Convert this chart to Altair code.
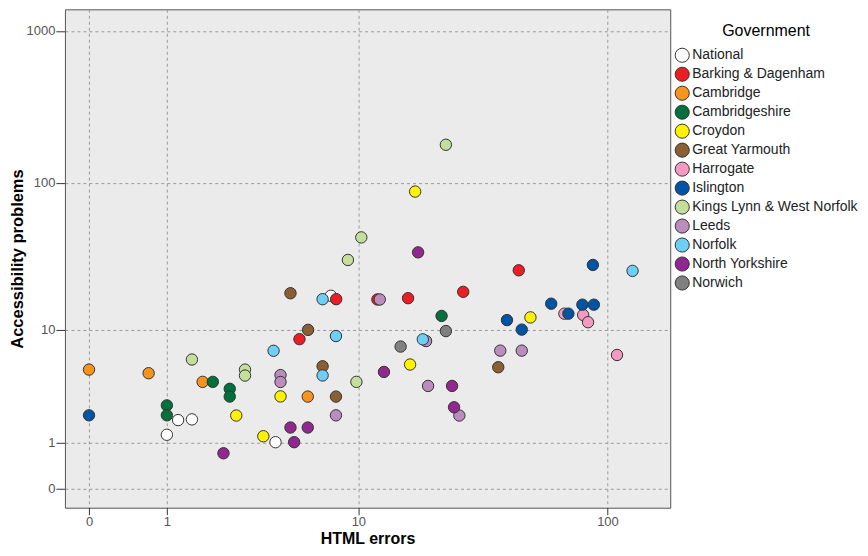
import altair as alt
import pandas as pd

groups = ["National", "Barking & Dagenham", "Cambridge", "Cambridgeshire", "Croydon",
          "Great Yarmouth", "Harrogate", "Islington", "Kings Lynn & West Norfolk",
          "Leeds", "Norfolk", "North Yorkshire", "Norwich"]
colors = ["#FFFFFF", "#EE1C25", "#F7941D", "#00703C", "#FFF200",
          "#8B5E34", "#F49AC1", "#0054A6", "#C4DF9B",
          "#BD8CBF", "#6DCFF6", "#92278F", "#808080"]

# HTML errors (x) and accessibility problems (y) per government
national_x = [1.00, 1.21, 1.50, 4.26, 7.61]
national_y = [1.26, 1.82, 1.85, 1.02, 17.4]
barking_x = [5.51, 8.03, 12.03, 16.12, 26.97, 44.86]
barking_y = [8.56, 16.47, 16.39, 16.73, 18.52, 26.01]
cambridge_x = [0.0, 0.70, 1.75, 6.01]
cambridge_y = [5.04, 4.72, 4.02, 3.02]
cambridgeshire_x = [1.0, 1.0, 2.01, 2.5, 2.5, 22.07]
cambridgeshire_y = [2.52, 2.03, 4.02, 3.52, 3.02, 12.57]
croydon_x = [2.71, 3.72, 4.5, 16.43, 17.23, 49.88]
croydon_y = [2.02, 1.21, 3.03, 5.52, 87.55, 12.27]
yarmouth_x = [5.01, 6.03, 7.0, 8.01, 37.21]
yarmouth_y = [18.11, 10.0, 5.35, 3.02, 5.26]
harrogate_x = [67.84, 80.37, 83.99, 108.98]
harrogate_y = [13.04, 12.77, 11.34, 6.53]
islington_x = [0.0, 40.29, 46.1, 60.22, 70.34, 79.79, 88.49, 87.71]
islington_y = [2.03, 11.74, 10.04, 15.32, 13.04, 15.08, 15.08, 28.28]
kingslynn_x = [1.5, 3.01, 3.01, 9.02, 9.81, 10.29, 22.97]
kingslynn_y = [6.03, 5.04, 4.52, 30.57, 4.02, 43.36, 178.4]
leeds_x = [4.5, 4.5, 8.01, 12.31, 19.1, 19.46, 26.02, 37.9, 46.1]
leeds_y = [4.56, 4.01, 2.03, 16.39, 8.29, 3.72, 2.02, 7.04, 7.04]
norfolk_x = [4.17, 7.0, 7.0, 8.01, 18.52, 125.3]
norfolk_y = [7.02, 4.53, 16.47, 9.02, 8.53, 25.77]
nyorks_x = [2.31, 5.01, 6.01, 5.21, 12.81, 17.72, 24.33, 24.78]
nyorks_y = [0.71, 1.52, 1.52, 1.02, 4.83, 34.4, 3.72, 2.42]
norwich_x = [15.02, 22.97]
norwich_y = [7.55, 9.8]

series = [
    (national_x, national_y), (barking_x, barking_y), (cambridge_x, cambridge_y),
    (cambridgeshire_x, cambridgeshire_y), (croydon_x, croydon_y), (yarmouth_x, yarmouth_y),
    (harrogate_x, harrogate_y), (islington_x, islington_y), (kingslynn_x, kingslynn_y),
    (leeds_x, leeds_y), (norfolk_x, norfolk_y), (nyorks_x, nyorks_y), (norwich_x, norwich_y),
]

rows = []
idx = 0
for g, (xs, ys) in zip(groups, series):
    for xv, yv in zip(xs, ys):
        rows.append({"gov": g, "errors": xv, "problems": yv, "idx": idx})
        idx += 1
df = pd.DataFrame(rows)

FONT = "Liberation Sans"

chart = alt.Chart(df).mark_circle(
    size=130, opacity=1, stroke="#333333", strokeWidth=1
).encode(
    x=alt.X("errors:Q",
            scale=alt.Scale(type="symlog", domain=[-0.239, 175.6], nice=False, zero=False),
            axis=alt.Axis(values=[0, 1, 10, 100], title="HTML errors", format="d",
                          tickSize=7, labelPadding=1, titleY=31, titleBaseline="middle",
                          titleFontSize=16)),
    y=alt.Y("problems:Q",
            scale=alt.Scale(type="symlog", domain=[-0.33, 1383], nice=False, zero=False),
            axis=alt.Axis(values=[0, 1, 10, 100, 1000], title="Accessibility problems", format="d",
                          tickSize=9, labelPadding=1, titleX=-47, titleY=249.5,
                          titleAngle=-90, titleAlign="center", titleBaseline="middle")),
    color=alt.Color("gov:N",
                    scale=alt.Scale(domain=groups, range=colors),
                    legend=alt.Legend(title="Government", orient="none", legendX=610, legendY=14,
                                      titleAnchor="middle", titleFontSize=16, titleFontWeight="normal",
                                      titleColor="#000000", titleFont=FONT, titlePadding=8,
                                      labelFont=FONT, labelFontSize=14, labelColor="#222222",
                                      labelOffset=2, symbolType="circle", symbolSize=200,
                                      symbolStrokeColor="#333333", symbolStrokeWidth=1,
                                      symbolOpacity=1, rowPadding=-1, labelLimit=300)),
    order=alt.Order("idx:Q"),
).properties(
    width=606, height=499,
    autosize=alt.AutoSizeParams(type="none"),
    padding={"left": 57, "top": 1, "right": 190, "bottom": 40},
).configure(
    background="#FFFFFF"
).configure_view(
    fill="#EBEBEB", stroke="#555555", strokeWidth=1
).configure_axis(
    grid=True, gridColor="#9A9A9A", gridDash=[3, 3], gridWidth=1,
    domain=False, tickColor="#333333", tickWidth=1,
    labelFont=FONT, labelFontSize=13, labelColor="#555555",
    titleFont=FONT, titleFontSize=16.5, titleFontWeight="bold", titleColor="#000000",
)

chart.save("out.html", embed_options={"renderer": "svg", "actions": False})
